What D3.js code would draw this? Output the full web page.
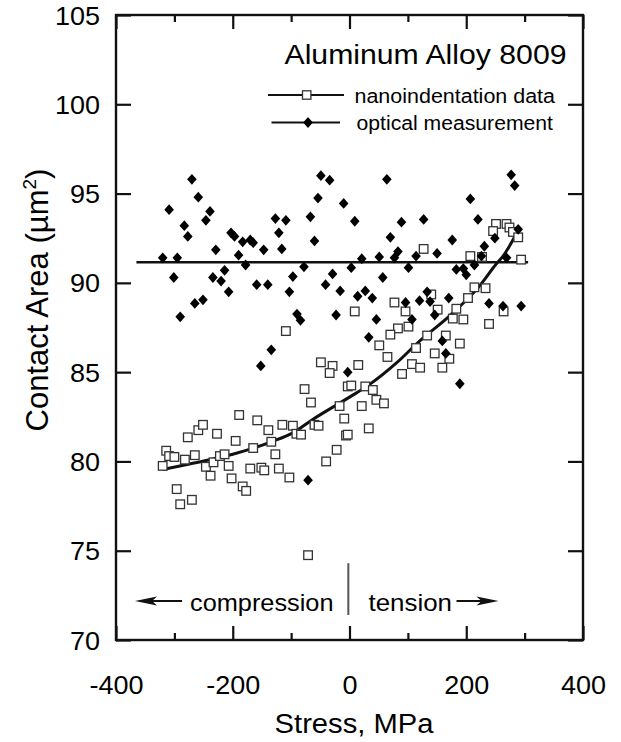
<!DOCTYPE html>
<head>
  <meta charset="utf-8">
  <style>
    body { margin: 0; background: #fff; }
    text { font-family: "Liberation Sans", Arial, Helvetica, sans-serif; fill: #000; }
  </style>
  <title>Aluminum Alloy 8009 contact area</title>
</head>
<body>
  <script src="https://cdn.jsdelivr.net/npm/d3@7/dist/d3.min.js"></script>
  <script>
  // nanoindentation data (open squares): stress MPa, contact area um^2
  var nanoX = [-320, -314, -309, -300, -282, -265, -277, -259, -251, -227, -195, -189, -246, -238, -233,
    -222, -214, -207, -202, -183, -177, -296, -290, -270, -170, -151, -146, -158, -139, -165,
    -134, -127, -121, -103, -115, -97, -91, -83, -60, -53, -77, -66, -109, -49, -29,
    -34, -17, -9, -6, -22, -40, -3, -71,
    251, 269, 274, 246, 280, 289, 127, 207, 227, 294,
    9, 77, 96, 140, 151, 183, 177, 195, 203, 214, 233, 264, 239, 83, 70,
    101, 133, 165, 189, 51, 65, 114, 146, 171, 159, 107, 121, 90, 15, 3,
    27, 40, 46, 59, 21, 33, -3];
  var nanoY = [79.75, 80.6, 80.3, 80.25, 80.1, 80.35, 81.35, 81.75, 82.05, 81.55, 81.15, 82.6, 79.7, 79.2, 79.95,
    80.3, 80.4, 79.75, 79.05, 78.6, 78.35, 78.45, 77.6, 77.85, 79.6, 79.65, 79.5, 82.3, 81.75, 80.75,
    81.1, 80.4, 79.6, 79.1, 82.05, 82.0, 81.55, 81.5, 82.05, 82.0, 84.05, 83.3, 87.3, 85.55, 85.35,
    84.95, 83.1, 82.4, 81.45, 80.65, 80.0, 84.2, 74.75,
    93.3, 93.3, 93.1, 92.9, 92.85, 92.55, 91.9, 91.5, 91.45, 91.3,
    88.4, 88.9, 88.4, 89.35, 88.5, 88.55, 88.0, 87.95, 89.15, 89.75, 89.7, 88.4, 87.7, 87.45, 87.1,
    87.55, 87.05, 87.05, 86.6, 86.5, 85.85, 86.35, 86.05, 85.75, 85.25, 85.45, 85.25, 84.9, 85.4, 84.25,
    84.2, 84.0, 83.45, 83.25, 83.1, 81.85, 81.5];

  // optical measurement (filled diamonds)
  var opticalX = [-270, -309, -259, -239, -246, -283, -277, -320, -295, -229, -203, -197, -183, -170, -165,
    -147, -190, -178, -214, -301, -234, -127, -109, -121, -116, -49, -34, -54, -67, -60,
    -10, -78, -29, -97,
    -290, -265, -251, -220, -207, -159, -140, -103, -90, -84, -134, -152, -41, -16, -23, -3, -71,
    64, 277, 283, 207, 9, 89, 127, 220, 70, 176, 249, 231, 289, 21, 51,
    77, 83, 114, 150, 226, 269, 3, 101, 57, 183, 195, 200, 214,
    27, 14, 39, 133, 120, 138, 96, 170, 146, 107, 46, 239, 263, 294, 33, 159, 165, 189];
  var opticalY = [95.8, 94.1, 94.8, 94.0, 93.5, 93.2, 92.6, 91.4, 91.4, 91.85, 92.8, 92.6, 92.3, 92.4, 92.25,
    91.85, 91.55, 91.0, 90.7, 90.3, 90.3, 93.6, 93.5, 92.8, 91.9, 96.0, 95.75, 94.75, 93.7, 92.35,
    94.45, 90.9, 90.5, 90.35,
    88.1, 88.85, 89.05, 90.1, 89.5, 89.9, 89.9, 89.5, 88.25, 87.9, 86.25, 85.35, 89.9, 89.55, 88.2, 85.0, 78.95,
    95.8, 96.05, 95.45, 94.7, 93.45, 93.4, 93.55, 93.55, 92.55, 92.4, 92.5, 92.05, 93.0, 91.35, 91.45,
    91.4, 91.75, 91.5, 91.65, 91.5, 91.4, 90.85, 90.85, 90.3, 90.75, 90.8, 90.45, 91.0,
    89.55, 89.25, 89.15, 89.5, 89.0, 88.95, 88.9, 89.15, 88.2, 87.95, 87.95, 88.85, 88.7, 88.7, 86.95, 86.75, 86.05, 84.35];

  // fitted lines
  var nanoFitX = [-320, -274, -200, -134, -97, -63, 0, 34, 80, 120, 171, 223, 251, 263, 290];
  var nanoFitY = [79.55, 79.86, 80.4, 81.1, 81.6, 82.35, 83.6, 84.3, 85.5, 86.74, 88.14, 89.83, 91.04, 91.5, 93.0];
  var opticalFitX = [-365, 306];
  var opticalFitY = [91.15, 91.15];

  var xMajor = [-400, -200, 0, 200, 400];
  var xMinor = [-300, -100, 100, 300];
  var yMajor = [70, 75, 80, 85, 90, 95, 100, 105];

  var width = 621, height = 742;

  var x = d3.scaleLinear().domain([-400, 400]).range([116, 583]);
  var y = d3.scaleLinear().domain([70, 105]).range([640, 15]);

  var svg = d3.select("body").append("svg")
      .attr("width", width)
      .attr("height", height);

  // stretch text horizontally a little, the scan is wider than the font
  function stretch(sel, k) {
    sel.each(function() {
      var w = this.getComputedTextLength();
      d3.select(this).attr("textLength", w * k).attr("lengthAdjust", "spacingAndGlyphs");
    });
  }

  // plain hyphen for negatives, like the original
  var plain = function(d) { return String(d); };

  // axes, ticks pointing inwards on all four sides
  var bottom = svg.append("g").attr("transform", "translate(0,640)")
      .call(d3.axisBottom(x).tickValues(xMajor).tickSize(-14).tickFormat(plain));
  svg.append("g").attr("transform", "translate(0,640)")
      .call(d3.axisBottom(x).tickValues(xMinor).tickSize(-7).tickFormat(""));
  svg.append("g").attr("transform", "translate(0,15)")
      .call(d3.axisTop(x).tickValues(xMajor).tickSize(-14).tickFormat(""));
  svg.append("g").attr("transform", "translate(0,15)")
      .call(d3.axisTop(x).tickValues(xMinor).tickSize(-7).tickFormat(""));
  var left = svg.append("g").attr("transform", "translate(116,0)")
      .call(d3.axisLeft(y).tickValues(yMajor).tickSize(-15).tickPadding(16).tickFormat(plain));
  svg.append("g").attr("transform", "translate(583,0)")
      .call(d3.axisRight(y).tickValues(yMajor).tickSize(-15).tickFormat(""));

  svg.selectAll(".domain").remove();
  svg.selectAll(".tick line").attr("stroke", "#111").attr("stroke-width", 2.2);
  svg.selectAll(".tick text").attr("font-size", 25).attr("fill", "#000")
      .attr("font-family", "Liberation Sans, Arial, sans-serif");
  // x tick labels sit well below the frame
  bottom.selectAll(".tick text").attr("dy", 0).attr("y", 54);
  left.selectAll(".tick text").attr("x", -16).attr("dy", "0.36em");
  stretch(svg.selectAll(".tick text"), 1.08);

  // frame
  svg.append("rect")
      .attr("x", x(-400)).attr("y", y(105))
      .attr("width", x(400) - x(-400)).attr("height", y(70) - y(105))
      .attr("fill", "none").attr("stroke", "#111").attr("stroke-width", 2.4);

  // fitted lines
  var line = d3.line().x(function(d) { return x(d[0]); }).y(function(d) { return y(d[1]); });
  svg.append("path")
      .datum(opticalFitX.map(function(v, i) { return [v, opticalFitY[i]]; }))
      .attr("d", line).attr("fill", "none").attr("stroke", "#111").attr("stroke-width", 2.5);
  svg.append("path")
      .datum(nanoFitX.map(function(v, i) { return [v, nanoFitY[i]]; }))
      .attr("d", line.curve(d3.curveMonotoneX)).attr("fill", "none").attr("stroke", "#111").attr("stroke-width", 3);

  var diamond = "M0,-5.4L4.8,0L0,5.4L-4.8,0Z";

  svg.append("g").selectAll("rect")
      .data(nanoX.map(function(v, i) { return [v, nanoY[i]]; }))
      .enter().append("rect")
      .attr("x", function(d) { return x(d[0]) - 4.3; })
      .attr("y", function(d) { return y(d[1]) - 4.3; })
      .attr("width", 8.6).attr("height", 8.6)
      .attr("fill", "#fff").attr("stroke", "#333").attr("stroke-width", 1.3);

  svg.append("g").selectAll("path")
      .data(opticalX.map(function(v, i) { return [v, opticalY[i]]; }))
      .enter().append("path")
      .attr("transform", function(d) { return "translate(" + x(d[0]) + "," + y(d[1]) + ")"; })
      .attr("d", diamond).attr("fill", "#000");

  // title and legend
  svg.append("text").attr("x", 284.5).attr("y", 63.5).attr("font-size", 27)
      .attr("textLength", 282).attr("lengthAdjust", "spacingAndGlyphs")
      .text("Aluminum Alloy 8009");

  svg.append("line").attr("x1", 268).attr("x2", 344).attr("y1", 95).attr("y2", 95)
      .attr("stroke", "#111").attr("stroke-width", 2);
  svg.append("rect").attr("x", 302.5).attr("y", 90.8).attr("width", 8.4).attr("height", 8.4)
      .attr("fill", "#fff").attr("stroke", "#333").attr("stroke-width", 1.3);
  svg.append("text").attr("x", 354.5).attr("y", 102.5).attr("font-size", 20)
      .attr("textLength", 200.5).attr("lengthAdjust", "spacingAndGlyphs")
      .text("nanoindentation data");

  svg.append("line").attr("x1", 271.5).attr("x2", 340).attr("y1", 122.5).attr("y2", 122.5)
      .attr("stroke", "#111").attr("stroke-width", 2);
  svg.append("path").attr("transform", "translate(308,122.5)").attr("d", diamond).attr("fill", "#000");
  svg.append("text").attr("x", 356.5).attr("y", 130).attr("font-size", 20)
      .attr("textLength", 196.5).attr("lengthAdjust", "spacingAndGlyphs")
      .text("optical measurement");

  // compression / tension note
  svg.append("line").attr("x1", x(-2)).attr("x2", x(-2)).attr("y1", y(74.3)).attr("y2", y(71.4))
      .attr("stroke", "#555").attr("stroke-width", 2);
  svg.append("text").attr("x", 190).attr("y", 611).attr("font-size", 24)
      .attr("textLength", 143.5).attr("lengthAdjust", "spacingAndGlyphs")
      .text("compression");
  svg.append("text").attr("x", 368.5).attr("y", 611).attr("font-size", 24)
      .attr("textLength", 83.5).attr("lengthAdjust", "spacingAndGlyphs")
      .text("tension");

  var ay = 601;
  svg.append("line").attr("x1", 150).attr("x2", 182).attr("y1", ay).attr("y2", ay)
      .attr("stroke", "#111").attr("stroke-width", 2);
  svg.append("path").attr("d", "M135," + ay + "L157," + (ay - 4.5) + "L152," + ay + "L157," + (ay + 4.5) + "Z")
      .attr("fill", "#111");
  svg.append("line").attr("x1", 456.5).attr("x2", 484).attr("y1", ay).attr("y2", ay)
      .attr("stroke", "#111").attr("stroke-width", 2);
  svg.append("path").attr("d", "M498.5," + ay + "L476.5," + (ay - 4.5) + "L481.5," + ay + "L476.5," + (ay + 4.5) + "Z")
      .attr("fill", "#111");

  // axis titles
  var xt = svg.append("text").attr("x", 354).attr("y", 733).attr("font-size", 27)
      .attr("text-anchor", "middle").text("Stress, MPa");
  stretch(xt, 1.08);

  var yt = svg.append("text").attr("transform", "translate(48,300) rotate(-90)")
      .attr("font-size", 31).attr("text-anchor", "middle");
  yt.append("tspan").text("Contact Area (\u00b5m");
  yt.append("tspan").attr("font-size", 19).attr("dy", -12).text("2");
  yt.append("tspan").attr("dy", 12).text(")");
  </script>
</body>
